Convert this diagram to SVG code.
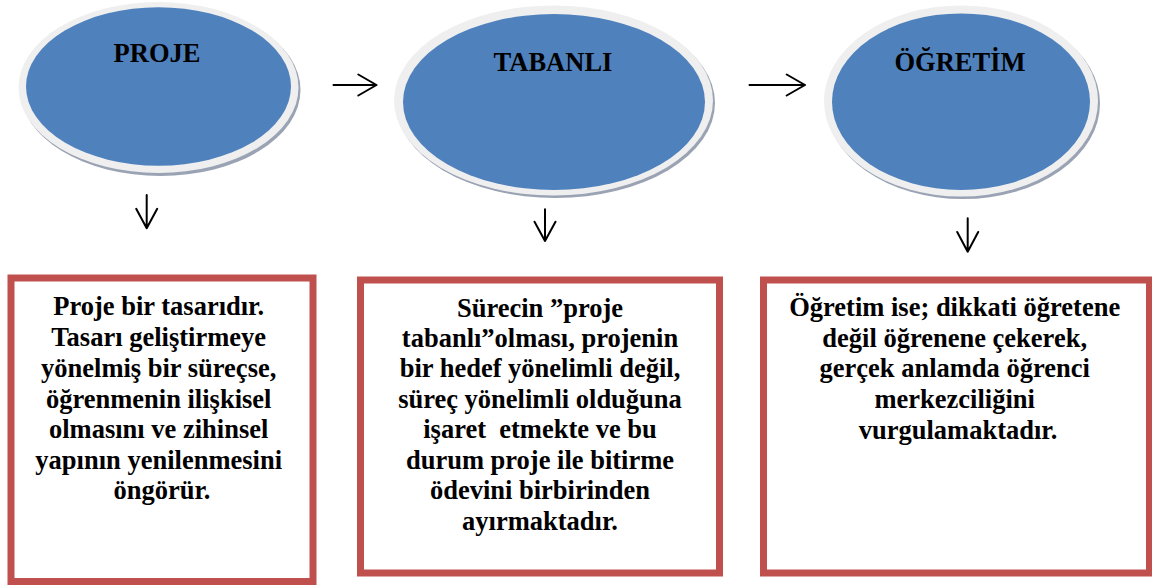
<svg xmlns="http://www.w3.org/2000/svg" width="1152" height="585" viewBox="0 0 1152 585">
  <style>
    .shadow { fill: #9AA3B4; }
    .rim { fill: #EFEFEF; }
    .core { fill: #4F81BD; }
    .title { font-weight: bold; font-size: 26.5px; fill: #000; text-anchor: middle; }
    .box { fill: #FFFFFF; stroke: #C0504D; stroke-width: 7; }
    .body { font-weight: bold; font-size: 26.5px; fill: #000; text-anchor: middle; }
    .arrow { fill: none; stroke: #000; stroke-width: 2; stroke-linecap: round; stroke-linejoin: round; }
  </style>
  <rect width="1152" height="585" fill="#FFFFFF"/>

  <g font-family="Liberation Serif, Times New Roman, Times, DejaVu Serif, serif">
  <!-- top row: ellipses -->
  <g id="node-proje">
    <ellipse class="shadow" cx="160.5" cy="90" rx="140" ry="86"/>
    <ellipse class="rim" cx="158.5" cy="87.5" rx="140" ry="85.5"/>
    <ellipse class="core" cx="158.5" cy="86.5" rx="132.5" ry="79.2"/>
    <text class="title" x="157" y="61.7">PROJE</text>
  </g>
  <g id="node-tabanli">
    <ellipse class="shadow" cx="555.5" cy="103" rx="159.5" ry="95"/>
    <ellipse class="rim" cx="553.5" cy="100.5" rx="159.5" ry="95"/>
    <ellipse class="core" cx="554" cy="102" rx="151" ry="88"/>
    <text class="title" x="553" y="70.7">TABANLI</text>
  </g>
  <g id="node-ogretim">
    <ellipse class="shadow" cx="963" cy="103.5" rx="137" ry="95.5"/>
    <ellipse class="rim" cx="961" cy="101" rx="137" ry="95.5"/>
    <ellipse class="core" cx="961" cy="101.7" rx="129" ry="88.3"/>
    <text class="title" x="960" y="70.7">ÖĞRETİM</text>
  </g>

  <!-- bottom row: description boxes -->
  <g id="box-proje">
    <rect class="box" x="11" y="278" width="302" height="303.5"/>
    <text class="body">
      <tspan x="162" y="315">Proje bir tasarıdır.</tspan>
      <tspan x="162" y="345.7">Tasarı geliştirmeye</tspan>
      <tspan x="162" y="376.5">yönelmiş bir süreçse,</tspan>
      <tspan x="162" y="407.5">öğrenmenin ilişkisel</tspan>
      <tspan x="162" y="438.3">olmasını ve zihinsel</tspan>
      <tspan x="162" y="468.5">yapının yenilenmesini</tspan>
      <tspan x="162" y="499.3">öngörür.</tspan>
    </text>
  </g>
  <g id="box-tabanli">
    <rect class="box" x="360.5" y="280" width="359" height="293"/>
    <text class="body" xml:space="preserve"><tspan x="540" y="316.7">Sürecin ”proje</tspan><tspan x="540" y="346.7">tabanlı”olması, projenin</tspan><tspan x="540" y="376.7">bir hedef yönelimli değil,</tspan><tspan x="540" y="407.7">süreç yönelimli olduğuna</tspan><tspan x="540" y="438">işaret  etmekte ve bu</tspan><tspan x="540" y="469">durum proje ile bitirme</tspan><tspan x="540" y="499">ödevini birbirinden</tspan><tspan x="540" y="530">ayırmaktadır.</tspan></text>
  </g>
  <g id="box-ogretim">
    <rect class="box" x="763.5" y="280" width="386" height="293"/>
    <text class="body">
      <tspan x="958" y="316">Öğretim ise; dikkati öğretene</tspan>
      <tspan x="958" y="346.7">değil öğrenene çekerek,</tspan>
      <tspan x="958" y="377.3">gerçek anlamda öğrenci</tspan>
      <tspan x="958" y="408">merkezciliğini</tspan>
      <tspan x="958" y="439">vurgulamaktadır.</tspan>
    </text>
  </g>
  </g>

  <!-- connectors: open-headed arrows -->
  <g id="connectors">
    <path class="arrow" d="M333.5 85 H376.5 M358.3 74.5 L376.5 85 L358.3 95.5"/>
    <path class="arrow" d="M749.5 85 H805 M786.7 74.5 L805 85 L786.7 95.5"/>
    <path class="arrow" d="M146.7 195 V228.3 M136.2 208.8 L146.7 228.3 L157.2 208.8"/>
    <path class="arrow" d="M545 209.3 V241 M534.5 221.7 L545 241 L555.5 221.7"/>
    <path class="arrow" d="M967.7 218.3 V251.7 M957.2 232 L967.7 251.7 L978.2 232"/>
  </g>
</svg>
